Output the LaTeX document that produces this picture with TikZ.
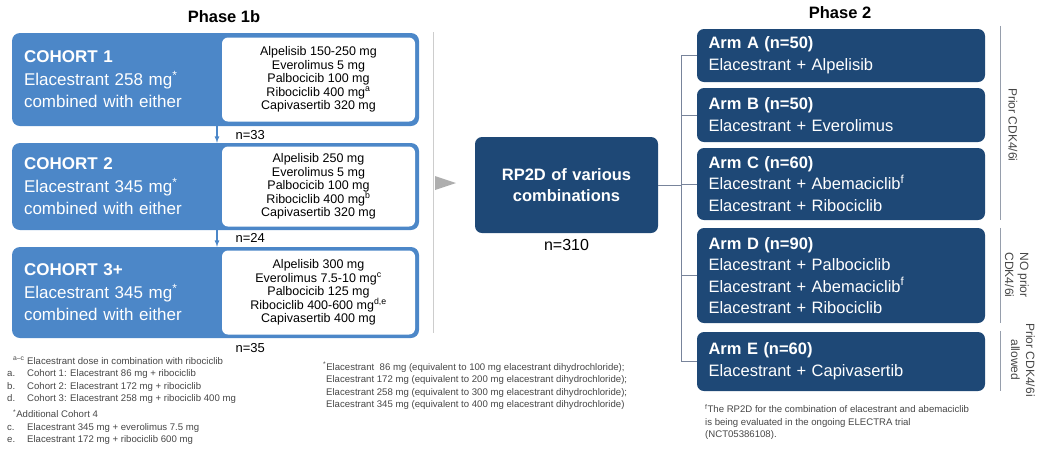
\documentclass[tikz,border=0pt]{standalone}
\usepackage{fontspec}
\setmainfont{Liberation Sans}
\usepackage{tikz}
\usetikzlibrary{positioning}

\definecolor{cohortblue}{RGB}{76,135,200}
\definecolor{armnavy}{RGB}{30,72,118}
\definecolor{bracketgrey}{RGB}{120,132,155}
\definecolor{sidegrey}{RGB}{150,158,172}
\definecolor{panelgrey}{RGB}{205,205,205}
\definecolor{notegrey}{RGB}{70,70,70}

\newcommand{\setfs}[2]{\fontsize{#1}{#2}\selectfont}

\tikzset{
    cohort/.style={fill=cohortblue, rounded corners=8pt, minimum width=407pt,
        text width=383pt, align=left, inner xsep=12pt, text=white,
        font=\setfs{17}{22.5}},
    dosebox/.style={fill=white, rounded corners=6pt, minimum width=193pt,
        align=center, inner sep=0pt, font=\setfs{12.5}{13.5}},
    armbox/.style={fill=armnavy, rounded corners=7pt, minimum width=288pt,
        text width=265pt, align=left, inner xsep=11.5pt, text=white,
        font=\setfs{16.5}{22}},
    flow/.style={cohortblue, line width=1.2pt, -latex},
    note/.style={align=left, inner sep=0pt, text=notegrey, font=\setfs{9.6}{12.5}},
    sidenote/.style={align=center, inner sep=0pt, text=notegrey, font=\setfs{12}{15}}
}

\begin{document}
\begin{tikzpicture}[x=1pt,y=-1pt]
        \useasboundingbox (0,0) rectangle (1038,451);

        % titles
        \node[font=\bfseries\setfs{16.5}{20}] (t1) at (224,17) {Phase 1b};
        \node[font=\bfseries\setfs{16.5}{20}] (t2) at (840,13) {Phase 2};

        % phase 1b cohorts
        \node[cohort, minimum height=93pt] (c1) at (215.5,79.5)
            {\textbf{COHORT 1}\\Elacestrant 258 mg\textsuperscript{*}\\combined with either};
        \node[dosebox, minimum height=84pt, anchor=east] (d1) at ([xshift=-4pt]c1.east)
            {Alpelisib 150-250 mg\\Everolimus 5 mg\\Palbocicib 100 mg\\
             Ribociclib 400 mg\textsuperscript{a}\\Capivasertib 320 mg};

        \node[cohort, minimum height=87pt] (c2) at (215.5,186.5)
            {\textbf{COHORT 2}\\Elacestrant 345 mg\textsuperscript{*}\\combined with either};
        \node[dosebox, minimum height=80pt, anchor=east] (d2) at ([xshift=-4pt]c2.east)
            {Alpelisib 250 mg\\Everolimus 5 mg\\Palbocicib 100 mg\\
             Ribociclib 400 mg\textsuperscript{b}\\Capivasertib 320 mg};

        \node[cohort, minimum height=91pt] (c3) at (215.5,292.5)
            {\textbf{COHORT 3+}\\Elacestrant 345 mg\textsuperscript{*}\\combined with either};
        \node[dosebox, minimum height=84pt, anchor=east] (d3) at ([xshift=-4pt]c3.east)
            {Alpelisib 300 mg\\Everolimus 7.5-10 mg\textsuperscript{c}\\Palbocicib 125 mg\\
             Ribociclib 400-600 mg\textsuperscript{d,e}\\Capivasertib 400 mg};

        % escalation arrows
        \coordinate (ax) at (217,0);
        \draw[flow] (c1.south -| ax) -- (c2.north -| ax);
        \draw[flow] (c2.south -| ax) -- (c3.north -| ax);
        \node[anchor=west, font=\setfs{13}{15}] (n1) at (232,135) {n=33};
        \node[anchor=west, font=\setfs{13}{15}] (n2) at (232,238) {n=24};
        \node[anchor=west, font=\setfs{13}{15}] (n3) at (232,348) {n=35};

        % divider and pointer
        \draw[panelgrey, line width=1pt] (433,32) -- (433,333);
        \fill[panelgrey!85!black] (435,176) -- (456,183) -- (435,190) -- cycle;

        % recommended dose
        \node[armbox, minimum width=179pt, minimum height=96pt, text width=160pt,
            align=center, font=\bfseries\setfs{16.5}{21}] (rp) at (566.5,185)
            {RP2D of various\\combinations};
        \node[below=5pt of rp, inner sep=1pt, font=\setfs{16}{18}] (n4) {n=310};

        % phase 2 arms
        \node[armbox, minimum height=53pt] (armA) at (841,55.5)
            {\textbf{Arm A (n=50)}\\Elacestrant + Alpelisib};
        \node[armbox, minimum height=54pt] (armB) at (841,115)
            {\textbf{Arm B (n=50)}\\Elacestrant + Everolimus};
        \node[armbox, minimum height=72pt, font=\setfs{16.5}{21.5}] (armC) at (841,184)
            {\textbf{Arm C (n=60)}\\Elacestrant + Abemaciclib\textsuperscript{f}\\Elacestrant + Ribociclib};
        \node[armbox, minimum height=95pt, font=\setfs{16.5}{21.5}] (armD) at (841,275.5)
            {\textbf{Arm D (n=90)}\\Elacestrant + Palbociclib\\
             Elacestrant + Abemaciclib\textsuperscript{f}\\Elacestrant + Ribociclib};
        \node[armbox, minimum height=59pt] (armE) at (841,361.5)
            {\textbf{Arm E (n=60)}\\Elacestrant + Capivasertib};

        % bracket to the arms
        \coordinate (br) at (681,0);
        \draw[bracketgrey, line width=0.9pt] (rp.east) -- (rp.east -| br);
        \draw[bracketgrey, line width=0.9pt] (armA.west -| br) -- (armE.west -| br);
        \foreach \a in {armA,armB,armC,armD,armE}
            \draw[bracketgrey, line width=0.9pt] (\a.west -| br) -- (\a.west);

        % prior treatment groups
        \coordinate (sx) at (1000,0);
        \draw[sidegrey, line width=1pt] ([yshift=3pt]armA.north -| sx) -- (armC.south -| sx);
        \draw[sidegrey, line width=1pt] (armD.north -| sx) -- (armD.south -| sx);
        \draw[sidegrey, line width=1pt] ([yshift=1pt]armE.north -| sx) -- (armE.south -| sx);
        \node[sidenote, rotate=-90] (g1) at (1013,125) {Prior CDK4/6i};
        \node[sidenote, rotate=-90] (g2) at (1017,275) {NO prior\\CDK4/6i};
        \node[sidenote, rotate=-90] (g3) at (1023,360) {Prior CDK4/6i\\allowed};

        % footnotes
        \node[note, anchor=north west] (f1) at (7,357) {%
            \hspace*{6pt}\textsuperscript{a--c} Elacestrant dose in combination with ribociclib\\
            \makebox[20pt][l]{a.}Cohort 1: Elacestrant 86 mg + ribociclib\\
            \makebox[20pt][l]{b.}Cohort 2: Elacestrant 172 mg + ribociclib\\
            \makebox[20pt][l]{d.}Cohort 3: Elacestrant 258 mg + ribociclib 400 mg\\[3.5pt]
            \hspace*{6pt}\textsuperscript{*}Additional Cohort 4\\
            \makebox[20pt][l]{c.}Elacestrant 345 mg + everolimus 7.5 mg\\
            \makebox[20pt][l]{e.}Elacestrant 172 mg + ribociclib 600 mg};
        \node[note, anchor=north west] (f2) at (323,362) {%
            \textsuperscript{*}Elacestrant\ \ 86 mg (equivalent to 100 mg elacestrant dihydrochloride);\\
            \hspace*{3pt}Elacestrant 172 mg (equivalent to 200 mg elacestrant dihydrochloride);\\
            \hspace*{3pt}Elacestrant 258 mg (equivalent to 300 mg elacestrant dihydrochloride);\\
            \hspace*{3pt}Elacestrant 345 mg (equivalent to 400 mg elacestrant dihydrochloride)};
        \node[note, anchor=north west] (f3) at (705,404) {%
            \textsuperscript{f}The RP2D for the combination of elacestrant and abemaciclib\\
            is being evaluated in the ongoing ELECTRA trial\\
            (NCT05386108).};
    \end{tikzpicture}
\end{document}
